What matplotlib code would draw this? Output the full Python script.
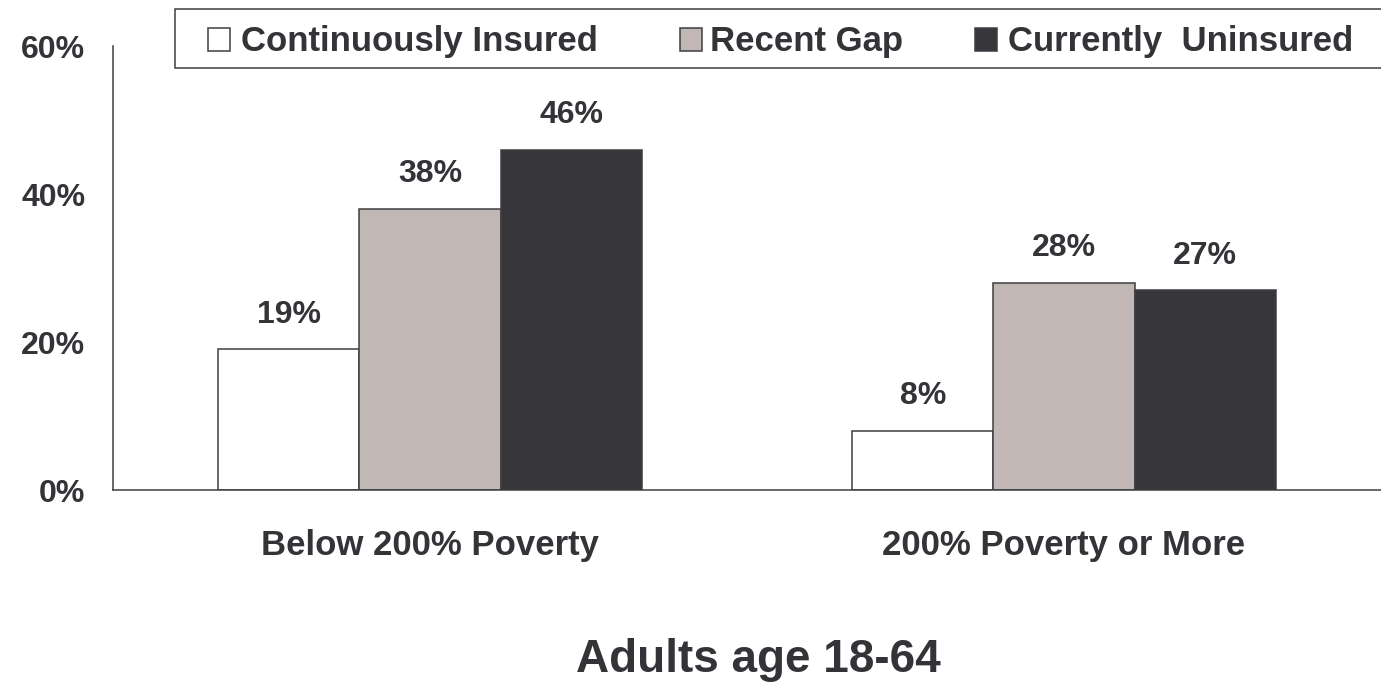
import matplotlib
matplotlib.use("Agg")
import matplotlib.pyplot as plt
from matplotlib.patches import Rectangle
import numpy as np

# Share of adults 18-64 by poverty level and insurance status (percent)
groups = ["Below 200% Poverty", "200% Poverty or More"]
series = ["Continuously Insured", "Recent Gap", "Currently  Uninsured"]
continuously_insured = [19, 8]
recent_gap = [38, 28]
currently_uninsured = [46, 27]
values = [continuously_insured, recent_gap, currently_uninsured]
yticks = [0, 20, 40, 60]
ytick_labels = ["0%", "20%", "40%", "60%"]
subtitle = "Adults age 18-64"

fills = ["#FFFFFF", "#C1B7B4", "#37363B"]
edge = "#3E3E42"
text_color = "#333338"

plt.rcParams["font.family"] = ["Liberation Sans", "DejaVu Sans"]
plt.rcParams["font.weight"] = "bold"

W, H = 1381, 685
fig = plt.figure(figsize=(W / 100, H / 100), dpi=100)


def fx(px):
    return px / W


def fy(py):
    return 1 - py / H


ax = fig.add_axes([fx(113), fy(490), 1 - fx(113), fy(46) - fy(490)])

x = np.arange(len(groups))
width = 0.2225
offsets = [-width, 0, width]
for vals, fill, off in zip(values, fills, offsets):
    bars = ax.bar(x + off, vals, width, color=fill, edgecolor=edge,
                  linewidth=1.1, zorder=2)
    for b, v in zip(bars, vals):
        ax.annotate(f"{v}%", (b.get_x() + b.get_width() / 2, v),
                    xytext=(0, 14), textcoords="offset points",
                    ha="center", va="bottom", fontsize=23,
                    fontweight="bold", color=text_color)

ax.set_xlim(-0.5, 1.5)
ax.set_ylim(0, 60)
ax.set_yticks(yticks)
ax.set_yticklabels(ytick_labels)
ax.set_xticks(x)
ax.set_xticklabels(groups)
ax.tick_params(axis="y", length=0, pad=20, labelsize=23, labelcolor=text_color)
ax.tick_params(axis="x", length=0, pad=28, labelsize=25, labelcolor=text_color)
for lab in ax.get_xticklabels() + ax.get_yticklabels():
    lab.set_fontweight("bold")

for s in ["top", "right"]:
    ax.spines[s].set_visible(False)
for s in ["left", "bottom"]:
    ax.spines[s].set_color(edge)
    ax.spines[s].set_linewidth(1.1)

# Legend drawn as a framed strip across the top of the figure
frame = Rectangle((fx(175), fy(68)), 1.2, fy(9) - fy(68),
                  transform=fig.transFigure, facecolor="white",
                  edgecolor=edge, linewidth=1.1, zorder=5)
fig.add_artist(frame)
marker_x = [208, 680, 975]
text_x = [241, 710, 1008]
for name, fill, mx, tx in zip(series, fills, marker_x, text_x):
    fig.add_artist(Rectangle((fx(mx), fy(51)), fx(22), fy(28) - fy(51),
                             transform=fig.transFigure, facecolor=fill,
                             edgecolor=edge, linewidth=1.1, zorder=6))
    fig.text(fx(tx), fy(41), name, ha="left", va="center", fontsize=25,
             fontweight="bold", color=text_color, zorder=7)

fig.text(fx(758), fy(660), subtitle, ha="center", va="center",
         fontsize=33, fontweight="bold", color=text_color)

fig.savefig("out.png", dpi=100)
